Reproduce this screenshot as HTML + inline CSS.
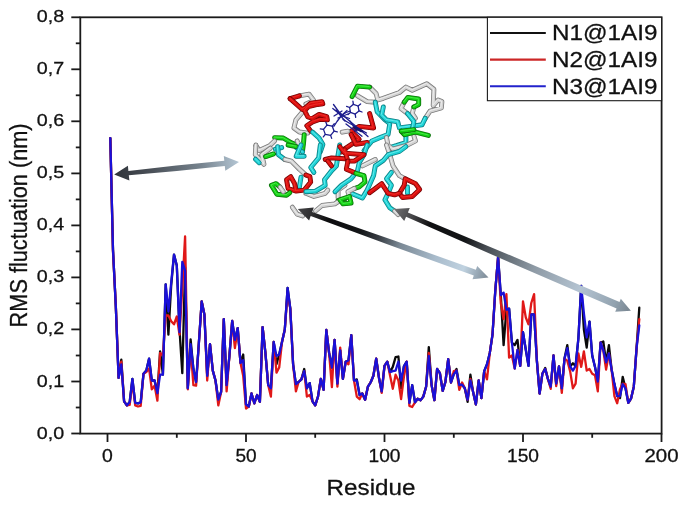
<!DOCTYPE html><html><head><meta charset="utf-8"><title>RMS fluctuation</title>
<style>html,body{margin:0;padding:0;background:#fff}svg{display:block}text{font-family:"Liberation Sans",sans-serif;fill:#111;stroke:#111;stroke-width:0.28px}</style></head><body>
<svg width="685" height="509" viewBox="0 0 685 509">
<rect width="685" height="509" fill="#fff"/>
<g stroke="#1a1a1a" stroke-width="1.8" fill="none">
<rect x="80.3" y="17.3" width="581.3" height="416.3"/>
<line x1="71.3" x2="80.3" y1="433.5" y2="433.5"/>
<line x1="75.8" x2="80.3" y1="407.5" y2="407.5"/>
<line x1="71.3" x2="80.3" y1="381.5" y2="381.5"/>
<line x1="75.8" x2="80.3" y1="355.5" y2="355.5"/>
<line x1="71.3" x2="80.3" y1="329.4" y2="329.4"/>
<line x1="75.8" x2="80.3" y1="303.4" y2="303.4"/>
<line x1="71.3" x2="80.3" y1="277.4" y2="277.4"/>
<line x1="75.8" x2="80.3" y1="251.4" y2="251.4"/>
<line x1="71.3" x2="80.3" y1="225.4" y2="225.4"/>
<line x1="75.8" x2="80.3" y1="199.4" y2="199.4"/>
<line x1="71.3" x2="80.3" y1="173.4" y2="173.4"/>
<line x1="75.8" x2="80.3" y1="147.4" y2="147.4"/>
<line x1="71.3" x2="80.3" y1="121.3" y2="121.3"/>
<line x1="75.8" x2="80.3" y1="95.3" y2="95.3"/>
<line x1="71.3" x2="80.3" y1="69.3" y2="69.3"/>
<line x1="75.8" x2="80.3" y1="43.3" y2="43.3"/>
<line x1="71.3" x2="80.3" y1="17.3" y2="17.3"/>
<line x1="107.5" x2="107.5" y1="433.5" y2="442"/>
<line x1="176.8" x2="176.8" y1="433.5" y2="437.8"/>
<line x1="246.0" x2="246.0" y1="433.5" y2="442"/>
<line x1="315.2" x2="315.2" y1="433.5" y2="437.8"/>
<line x1="384.5" x2="384.5" y1="433.5" y2="442"/>
<line x1="453.8" x2="453.8" y1="433.5" y2="437.8"/>
<line x1="523.0" x2="523.0" y1="433.5" y2="442"/>
<line x1="592.2" x2="592.2" y1="433.5" y2="437.8"/>
<line x1="661.5" x2="661.5" y1="433.5" y2="442"/>
</g>
<text x="64.2" y="438.5" font-size="17.3" text-anchor="end" textLength="27.4" lengthAdjust="spacingAndGlyphs">0,0</text>
<text x="64.2" y="386.5" font-size="17.3" text-anchor="end" textLength="27.4" lengthAdjust="spacingAndGlyphs">0,1</text>
<text x="64.2" y="334.4" font-size="17.3" text-anchor="end" textLength="27.4" lengthAdjust="spacingAndGlyphs">0,2</text>
<text x="64.2" y="282.4" font-size="17.3" text-anchor="end" textLength="27.4" lengthAdjust="spacingAndGlyphs">0,3</text>
<text x="64.2" y="230.4" font-size="17.3" text-anchor="end" textLength="27.4" lengthAdjust="spacingAndGlyphs">0,4</text>
<text x="64.2" y="178.4" font-size="17.3" text-anchor="end" textLength="27.4" lengthAdjust="spacingAndGlyphs">0,5</text>
<text x="64.2" y="126.3" font-size="17.3" text-anchor="end" textLength="27.4" lengthAdjust="spacingAndGlyphs">0,6</text>
<text x="64.2" y="74.3" font-size="17.3" text-anchor="end" textLength="27.4" lengthAdjust="spacingAndGlyphs">0,7</text>
<text x="64.2" y="22.3" font-size="17.3" text-anchor="end" textLength="27.4" lengthAdjust="spacingAndGlyphs">0,8</text>
<text x="102.1" y="461.7" font-size="17.8" textLength="10.8" lengthAdjust="spacingAndGlyphs">0</text>
<text x="235.4" y="461.7" font-size="17.8" textLength="21.2" lengthAdjust="spacingAndGlyphs">50</text>
<text x="368.5" y="461.7" font-size="17.8" textLength="32" lengthAdjust="spacingAndGlyphs">100</text>
<text x="507.0" y="461.7" font-size="17.8" textLength="32" lengthAdjust="spacingAndGlyphs">150</text>
<text x="644.5" y="461.7" font-size="17.8" textLength="34.1" lengthAdjust="spacingAndGlyphs">200</text>
<text x="326.6" y="495.0" font-size="22.2" textLength="88.8" lengthAdjust="spacingAndGlyphs">Residue</text>
<g transform="translate(27.4,327.4) rotate(-90) scale(1,1.15)"><text x="0" y="0" font-size="21.6" textLength="204" lengthAdjust="spacingAndGlyphs">RMS fluctuation (nm)</text></g>
<rect x="487.4" y="17.3" width="174.2" height="83.4" fill="#fff" stroke="#1a1a1a" stroke-width="1.1"/>
<line x1="490" x2="545.8" y1="33.0" y2="33.0" stroke="#111" stroke-width="2.1"/>
<text x="552.0" y="40.1" font-size="21.9" textLength="105.5" lengthAdjust="spacingAndGlyphs">N1@1AI9</text>
<line x1="490" x2="545.8" y1="59.6" y2="59.6" stroke="#cc2626" stroke-width="2.1"/>
<text x="552.0" y="66.8" font-size="21.9" textLength="105.5" lengthAdjust="spacingAndGlyphs">N2@1AI9</text>
<line x1="490" x2="545.8" y1="86.2" y2="86.2" stroke="#2222cc" stroke-width="2.1"/>
<text x="552.0" y="93.5" font-size="21.9" textLength="105.5" lengthAdjust="spacingAndGlyphs">N3@1AI9</text>
<polyline points="110.3,138.1 113.0,249.9 115.8,306.1 118.6,377.9 121.3,359.7 124.1,401.3 126.9,405.4 129.7,402.0 132.4,378.9 135.2,402.8 138.0,403.3 140.7,402.3 143.5,373.7 146.3,370.6 149.1,358.6 151.8,380.5 154.6,380.5 157.4,393.2 160.1,351.3 162.9,374.7 165.7,284.3 168.4,334.7 171.2,285.3 174.0,254.6 176.8,265.5 179.5,329.5 182.3,373.2 185.1,267.1 187.8,388.3 190.6,339.4 193.4,369.0 196.1,382.0 198.9,342.5 201.7,301.4 204.4,314.4 207.2,375.8 210.0,344.1 212.8,370.6 215.5,380.5 218.3,399.7 221.1,391.9 223.8,319.1 226.6,385.1 229.4,356.0 232.2,320.9 234.9,339.9 237.7,328.1 240.5,362.8 243.2,354.5 246.0,404.4 248.8,406.5 251.5,393.5 254.3,403.3 257.1,395.0 259.9,401.8 262.6,327.1 265.4,352.9 268.2,385.1 270.9,388.3 273.7,342.0 276.5,364.3 279.2,354.5 282.0,342.0 284.8,329.5 287.6,287.9 290.3,308.7 293.1,364.3 295.9,384.1 298.6,382.0 301.4,379.4 304.2,369.0 306.9,388.3 309.7,383.1 312.5,401.3 315.2,405.4 318.0,396.6 320.8,378.9 323.6,389.8 326.3,330.0 329.1,352.9 331.9,367.5 334.6,339.9 337.4,383.6 340.2,350.3 342.9,378.9 345.7,361.7 348.5,360.2 351.3,335.2 354.0,380.5 356.8,379.4 359.6,395.0 362.3,393.5 365.1,399.7 367.9,386.7 370.6,382.5 373.4,375.8 376.2,358.6 379.0,377.9 381.7,391.4 384.5,365.9 387.3,361.7 390.0,372.1 392.8,366.9 395.6,357.1 398.4,356.5 401.1,388.3 403.9,366.4 406.7,361.7 409.4,402.8 412.2,385.1 415.0,402.3 417.7,398.7 420.5,400.2 423.3,396.6 426.1,386.7 428.8,347.2 431.6,385.1 434.4,400.2 437.1,369.0 439.9,373.2 442.7,390.9 445.4,382.0 448.2,359.1 451.0,382.5 453.8,374.2 456.5,369.0 459.3,385.1 462.1,384.6 464.8,388.3 467.6,401.8 470.4,374.7 473.1,391.9 475.9,404.4 478.7,380.5 481.4,398.1 484.2,371.1 487.0,364.3 489.8,352.9 492.5,334.7 495.3,290.5 498.1,257.2 500.8,295.2 503.6,345.1 506.4,309.7 509.1,308.7 511.9,342.5 514.7,345.1 517.5,339.9 520.2,365.9 523.0,332.1 525.8,349.8 528.5,365.9 531.3,314.4 534.1,314.4 536.9,361.2 539.6,393.5 542.4,373.7 545.2,368.0 547.9,378.9 550.7,386.7 553.5,355.5 556.2,383.6 559.0,366.4 561.8,388.3 564.5,358.6 567.3,345.1 570.1,366.4 572.9,363.3 575.6,365.9 578.4,338.3 581.2,285.8 583.9,329.5 586.7,347.7 589.5,321.7 592.2,355.5 595.0,366.9 597.8,381.5 600.6,342.5 603.3,341.5 606.1,362.3 608.9,345.1 611.6,369.5 614.4,384.1 617.2,396.1 620.0,398.1 622.7,376.8 625.5,388.3 628.3,402.8 631.0,398.7 633.8,386.7 636.6,347.7 639.3,307.7" fill="none" stroke="#0a0a0a" stroke-width="2.3" stroke-linejoin="round" stroke-linecap="round"/>
<polyline points="110.3,138.1 113.0,251.5 115.8,305.1 118.6,377.9 121.3,361.7 124.1,401.3 126.9,405.4 129.7,404.9 132.4,381.5 135.2,405.4 138.0,406.5 140.7,405.9 143.5,373.7 146.3,372.1 149.1,368.5 151.8,389.3 154.6,385.7 157.4,400.7 160.1,352.9 162.9,355.5 165.7,315.5 168.4,315.5 171.2,321.2 174.0,324.3 176.8,316.5 179.5,334.7 182.3,287.9 185.1,236.4 187.8,389.3 190.6,347.7 193.4,385.1 196.1,385.7 198.9,342.5 201.7,301.4 204.4,314.4 207.2,380.5 210.0,344.1 212.8,370.6 215.5,380.5 218.3,405.4 221.1,391.9 223.8,319.1 226.6,391.4 229.4,356.0 232.2,320.9 234.9,348.2 237.7,328.1 240.5,362.8 243.2,375.8 246.0,408.5 248.8,406.5 251.5,393.5 254.3,403.3 257.1,395.0 259.9,401.8 262.6,327.1 265.4,352.9 268.2,385.1 270.9,396.6 273.7,342.0 276.5,372.7 279.2,367.5 282.0,342.0 284.8,329.5 287.6,293.1 290.3,308.7 293.1,364.3 295.9,391.4 298.6,382.0 301.4,379.4 304.2,371.1 306.9,396.6 309.7,395.0 312.5,401.3 315.2,405.4 318.0,396.6 320.8,378.9 323.6,389.8 326.3,330.0 329.1,352.9 331.9,387.2 334.6,339.9 337.4,386.7 340.2,347.7 342.9,378.9 345.7,361.7 348.5,364.3 351.3,335.2 354.0,380.5 356.8,396.6 359.6,399.2 362.3,393.5 365.1,399.7 367.9,386.7 370.6,382.5 373.4,375.8 376.2,358.6 379.0,377.9 381.7,392.9 384.5,365.9 387.3,361.7 390.0,375.3 392.8,388.8 395.6,374.7 398.4,380.5 401.1,399.2 403.9,376.8 406.7,361.7 409.4,405.9 412.2,407.0 415.0,402.3 417.7,398.7 420.5,400.2 423.3,396.6 426.1,386.7 428.8,352.9 431.6,385.1 434.4,400.2 437.1,369.0 439.9,373.2 442.7,390.9 445.4,382.0 448.2,359.1 451.0,382.5 453.8,371.1 456.5,370.6 459.3,389.8 462.1,382.5 464.8,388.3 467.6,399.7 470.4,378.9 473.1,391.9 475.9,404.4 478.7,380.5 481.4,398.1 484.2,371.1 487.0,379.4 489.8,352.9 492.5,334.7 495.3,290.5 498.1,257.2 500.8,303.0 503.6,319.1 506.4,294.1 509.1,357.6 511.9,355.5 514.7,368.5 517.5,349.8 520.2,365.9 523.0,301.4 525.8,317.5 528.5,324.3 531.3,303.0 534.1,294.1 536.9,360.7 539.6,393.5 542.4,373.7 545.2,369.0 547.9,378.9 550.7,388.8 553.5,355.5 556.2,386.2 559.0,366.4 561.8,392.9 564.5,358.6 567.3,360.7 570.1,371.1 572.9,388.3 575.6,383.6 578.4,353.4 581.2,366.9 583.9,351.3 586.7,370.6 589.5,369.0 592.2,373.7 595.0,375.3 597.8,391.4 600.6,342.5 603.3,350.3 606.1,369.5 608.9,353.4 611.6,369.5 614.4,396.1 617.2,403.3 620.0,389.3 622.7,383.6 625.5,384.1 628.3,402.8 631.0,398.7 633.8,386.7 636.6,347.7 639.3,319.1" fill="none" stroke="#e01818" stroke-width="2.3" stroke-linejoin="round" stroke-linecap="round"/>
<polyline points="110.3,138.1 113.0,249.9 115.8,306.1 118.6,377.9 121.3,364.3 124.1,401.3 126.9,405.4 129.7,402.0 132.4,378.9 135.2,402.8 138.0,403.3 140.7,402.3 143.5,373.7 146.3,370.6 149.1,358.6 151.8,380.5 154.6,380.5 157.4,393.2 160.1,374.7 162.9,374.7 165.7,284.3 168.4,311.3 171.2,282.7 174.0,254.6 176.8,265.5 179.5,332.1 182.3,261.9 185.1,270.7 187.8,388.3 190.6,344.1 193.4,369.0 196.1,382.0 198.9,342.5 201.7,301.4 204.4,314.4 207.2,375.8 210.0,344.1 212.8,370.6 215.5,380.5 218.3,399.7 221.1,391.9 223.8,319.1 226.6,385.1 229.4,356.0 232.2,320.9 234.9,339.9 237.7,328.1 240.5,362.8 243.2,360.2 246.0,404.4 248.8,406.5 251.5,393.5 254.3,403.3 257.1,395.0 259.9,401.8 262.6,327.1 265.4,352.9 268.2,385.1 270.9,388.3 273.7,342.0 276.5,356.0 279.2,354.5 282.0,342.0 284.8,329.5 287.6,287.9 290.3,308.7 293.1,364.3 295.9,384.1 298.6,382.0 301.4,379.4 304.2,371.1 306.9,388.3 309.7,383.1 312.5,401.3 315.2,405.4 318.0,396.6 320.8,378.9 323.6,389.8 326.3,330.0 329.1,352.9 331.9,367.5 334.6,339.9 337.4,383.6 340.2,350.3 342.9,378.9 345.7,361.7 348.5,360.2 351.3,335.2 354.0,380.5 356.8,380.5 359.6,395.0 362.3,393.5 365.1,399.7 367.9,386.7 370.6,382.5 373.4,375.8 376.2,358.6 379.0,377.9 381.7,391.4 384.5,365.9 387.3,361.7 390.0,372.1 392.8,371.1 395.6,370.6 398.4,361.7 401.1,380.5 403.9,366.4 406.7,361.7 409.4,402.8 412.2,385.1 415.0,402.3 417.7,398.7 420.5,400.2 423.3,396.6 426.1,386.7 428.8,356.0 431.6,385.1 434.4,400.2 437.1,369.0 439.9,373.2 442.7,390.9 445.4,382.0 448.2,359.1 451.0,382.5 453.8,374.2 456.5,370.6 459.3,385.1 462.1,384.6 464.8,388.3 467.6,399.7 470.4,380.5 473.1,391.9 475.9,404.4 478.7,380.5 481.4,398.1 484.2,371.1 487.0,364.3 489.8,352.9 492.5,334.7 495.3,290.5 498.1,257.2 500.8,295.2 503.6,292.6 506.4,309.7 509.1,308.7 511.9,342.5 514.7,368.5 517.5,349.8 520.2,365.9 523.0,332.1 525.8,349.8 528.5,365.9 531.3,314.4 534.1,314.4 536.9,361.2 539.6,393.5 542.4,373.7 545.2,369.0 547.9,378.9 550.7,386.7 553.5,355.5 556.2,383.6 559.0,366.4 561.8,388.3 564.5,358.6 567.3,348.2 570.1,366.4 572.9,370.6 575.6,365.9 578.4,338.3 581.2,285.8 583.9,313.4 586.7,337.3 589.5,321.7 592.2,355.5 595.0,366.9 597.8,381.5 600.6,342.5 603.3,350.3 606.1,362.3 608.9,353.4 611.6,369.5 614.4,384.1 617.2,396.1 620.0,396.1 622.7,384.1 625.5,388.3 628.3,402.8 631.0,398.7 633.8,386.7 636.6,347.7 639.3,325.3" fill="none" stroke="#1a10d8" stroke-width="2.3" stroke-linejoin="round" stroke-linecap="round"/>
<filter id="sf" x="-5%" y="-5%" width="110%" height="110%"><feGaussianBlur stdDeviation="0.35"/></filter>
<g fill="none" stroke-linecap="round" stroke-linejoin="round" filter="url(#sf)">
<polyline points="299.4,95.8 309.1,94.2 313.9,100.6 305.9,104.1" stroke="#7a7a7a" stroke-width="4.9"/>
<polyline points="299.4,95.8 309.1,94.2 313.9,100.6 305.9,104.1" stroke="#d2d2d2" stroke-width="3.3"/>
<polyline points="299.4,95.8 309.1,94.2 313.9,100.6 305.9,104.1" stroke="#f0f0f0" stroke-width="0.9" transform="translate(-0.4,-0.5)"/>
<polyline points="302.6,111.9 295.9,119.9 293.9,128.0 299.4,132.0 307.8,133.1" stroke="#7a7a7a" stroke-width="4.9"/>
<polyline points="302.6,111.9 295.9,119.9 293.9,128.0 299.4,132.0 307.8,133.1" stroke="#d2d2d2" stroke-width="3.3"/>
<polyline points="302.6,111.9 295.9,119.9 293.9,128.0 299.4,132.0 307.8,133.1" stroke="#f0f0f0" stroke-width="0.9" transform="translate(-0.4,-0.5)"/>
<polyline points="290.1,98.7 299.4,95.8" stroke="#780505" stroke-width="4.9"/>
<polyline points="290.1,98.7 299.4,95.8" stroke="#dc1010" stroke-width="3.3"/>
<polyline points="290.1,98.7 299.4,95.8" stroke="#ee3028" stroke-width="0.9" transform="translate(-0.4,-0.5)"/>
<polyline points="290.1,98.7 302.3,109.5 305.9,107.4 310.7,103.2 322.0,101.6 322.8,103.8 315.5,104.8 308.3,106.7 304.6,110.6 307.8,117.0 312.6,118.3 319.1,114.4 326.8,116.7 327.4,119.9 320.3,119.3 312.6,121.9 306.8,125.7 310.7,131.2" stroke="#780505" stroke-width="4.9"/>
<polyline points="290.1,98.7 302.3,109.5 305.9,107.4 310.7,103.2 322.0,101.6 322.8,103.8 315.5,104.8 308.3,106.7 304.6,110.6 307.8,117.0 312.6,118.3 319.1,114.4 326.8,116.7 327.4,119.9 320.3,119.3 312.6,121.9 306.8,125.7 310.7,131.2" stroke="#dc1010" stroke-width="3.3"/>
<polyline points="290.1,98.7 302.3,109.5 305.9,107.4 310.7,103.2 322.0,101.6 322.8,103.8 315.5,104.8 308.3,106.7 304.6,110.6 307.8,117.0 312.6,118.3 319.1,114.4 326.8,116.7 327.4,119.9 320.3,119.3 312.6,121.9 306.8,125.7 310.7,131.2" stroke="#ee3028" stroke-width="0.9" transform="translate(-0.4,-0.5)"/>
<polyline points="274.6,137.6 283.3,138.0 291.4,142.8 297.2,145.0" stroke="#087008" stroke-width="4.9"/>
<polyline points="274.6,137.6 283.3,138.0 291.4,142.8 297.2,145.0" stroke="#12d012" stroke-width="3.3"/>
<polyline points="274.6,137.6 283.3,138.0 291.4,142.8 297.2,145.0" stroke="#50ea50" stroke-width="0.9" transform="translate(-0.4,-0.5)"/>
<polyline points="304.2,134.7 303.6,142.5 302.6,150.5" stroke="#087008" stroke-width="4.9"/>
<polyline points="304.2,134.7 303.6,142.5 302.6,150.5" stroke="#12d012" stroke-width="3.3"/>
<polyline points="304.2,134.7 303.6,142.5 302.6,150.5" stroke="#50ea50" stroke-width="0.9" transform="translate(-0.4,-0.5)"/>
<polyline points="255.9,145.7 259.2,150.5 269.6,145.7 274.6,140.9" stroke="#7a7a7a" stroke-width="4.9"/>
<polyline points="255.9,145.7 259.2,150.5 269.6,145.7 274.6,140.9" stroke="#d2d2d2" stroke-width="3.3"/>
<polyline points="255.9,145.7 259.2,150.5 269.6,145.7 274.6,140.9" stroke="#f0f0f0" stroke-width="0.9" transform="translate(-0.4,-0.5)"/>
<polyline points="297.2,140.9 299.4,145.7" stroke="#7a7a7a" stroke-width="4.9"/>
<polyline points="297.2,140.9 299.4,145.7" stroke="#d2d2d2" stroke-width="3.3"/>
<polyline points="297.2,140.9 299.4,145.7" stroke="#f0f0f0" stroke-width="0.9" transform="translate(-0.4,-0.5)"/>
<polyline points="312.6,132.2 319.1,138.0 322.9,144.4 320.3,152.0" stroke="#0c7f84" stroke-width="4.9"/>
<polyline points="312.6,132.2 319.1,138.0 322.9,144.4 320.3,152.0" stroke="#1fd2d6" stroke-width="3.3"/>
<polyline points="312.6,132.2 319.1,138.0 322.9,144.4 320.3,152.0" stroke="#6cecec" stroke-width="0.9" transform="translate(-0.4,-0.5)"/>
<polyline points="275.3,149.2 281.7,147.6" stroke="#0c7f84" stroke-width="4.9"/>
<polyline points="275.3,149.2 281.7,147.6" stroke="#1fd2d6" stroke-width="3.3"/>
<polyline points="275.3,149.2 281.7,147.6" stroke="#6cecec" stroke-width="0.9" transform="translate(-0.4,-0.5)"/>
<polyline points="296.2,147.6 302.6,152.0" stroke="#0c7f84" stroke-width="4.9"/>
<polyline points="296.2,147.6 302.6,152.0" stroke="#1fd2d6" stroke-width="3.3"/>
<polyline points="296.2,147.6 302.6,152.0" stroke="#6cecec" stroke-width="0.9" transform="translate(-0.4,-0.5)"/>
<polyline points="369.6,87.1 376.1,93.5 377.8,100.0 383.3,98.3 399.4,92.5 405.9,87.1 412.3,90.3 426.8,83.8 433.9,89.3 433.2,105.7 438.1,100.0 441.9,101.6 441.3,108.0 430.0,111.2 425.2,118.3" stroke="#7a7a7a" stroke-width="4.9"/>
<polyline points="369.6,87.1 376.1,93.5 377.8,100.0 383.3,98.3 399.4,92.5 405.9,87.1 412.3,90.3 426.8,83.8 433.9,89.3 433.2,105.7 438.1,100.0 441.9,101.6 441.3,108.0 430.0,111.2 425.2,118.3" stroke="#d2d2d2" stroke-width="3.3"/>
<polyline points="369.6,87.1 376.1,93.5 377.8,100.0 383.3,98.3 399.4,92.5 405.9,87.1 412.3,90.3 426.8,83.8 433.9,89.3 433.2,105.7 438.1,100.0 441.9,101.6 441.3,108.0 430.0,111.2 425.2,118.3" stroke="#f0f0f0" stroke-width="0.9" transform="translate(-0.4,-0.5)"/>
<polyline points="357.5,95.8 367.2,101.6 375.3,102.2" stroke="#7a7a7a" stroke-width="4.9"/>
<polyline points="357.5,95.8 367.2,101.6 375.3,102.2" stroke="#d2d2d2" stroke-width="3.3"/>
<polyline points="357.5,95.8 367.2,101.6 375.3,102.2" stroke="#f0f0f0" stroke-width="0.9" transform="translate(-0.4,-0.5)"/>
<polyline points="352.1,96.6 357.5,86.1 369.6,87.1" stroke="#087008" stroke-width="4.9"/>
<polyline points="352.1,96.6 357.5,86.1 369.6,87.1" stroke="#12d012" stroke-width="3.3"/>
<polyline points="352.1,96.6 357.5,86.1 369.6,87.1" stroke="#50ea50" stroke-width="0.9" transform="translate(-0.4,-0.5)"/>
<polyline points="404.2,102.2 401.0,108.6 407.5,113.5" stroke="#7a7a7a" stroke-width="4.9"/>
<polyline points="404.2,102.2 401.0,108.6 407.5,113.5" stroke="#d2d2d2" stroke-width="3.3"/>
<polyline points="404.2,102.2 401.0,108.6 407.5,113.5" stroke="#f0f0f0" stroke-width="0.9" transform="translate(-0.4,-0.5)"/>
<polyline points="413.9,107.0 412.3,113.5 415.5,118.3" stroke="#7a7a7a" stroke-width="4.9"/>
<polyline points="413.9,107.0 412.3,113.5 415.5,118.3" stroke="#d2d2d2" stroke-width="3.3"/>
<polyline points="413.9,107.0 412.3,113.5 415.5,118.3" stroke="#f0f0f0" stroke-width="0.9" transform="translate(-0.4,-0.5)"/>
<polyline points="404.2,102.2 407.8,97.4 418.7,99.0 418.7,104.6 413.9,107.0" stroke="#087008" stroke-width="4.9"/>
<polyline points="404.2,102.2 407.8,97.4 418.7,99.0 418.7,104.6 413.9,107.0" stroke="#12d012" stroke-width="3.3"/>
<polyline points="404.2,102.2 407.8,97.4 418.7,99.0 418.7,104.6 413.9,107.0" stroke="#50ea50" stroke-width="0.9" transform="translate(-0.4,-0.5)"/>
<polyline points="375.3,102.2 377.2,111.9 384.9,119.9 389.8,123.5 388.1,134.4 380.1,137.6 372.0,140.9 364.0,150.5" stroke="#0c7f84" stroke-width="4.9"/>
<polyline points="375.3,102.2 377.2,111.9 384.9,119.9 389.8,123.5 388.1,134.4 380.1,137.6 372.0,140.9 364.0,150.5" stroke="#1fd2d6" stroke-width="3.3"/>
<polyline points="375.3,102.2 377.2,111.9 384.9,119.9 389.8,123.5 388.1,134.4 380.1,137.6 372.0,140.9 364.0,150.5" stroke="#6cecec" stroke-width="0.9" transform="translate(-0.4,-0.5)"/>
<polyline points="383.3,107.0 381.7,115.1 386.5,119.9 397.8,121.9 399.4,128.0 410.7,126.4 422.0,124.8 425.2,118.3" stroke="#0c7f84" stroke-width="4.9"/>
<polyline points="383.3,107.0 381.7,115.1 386.5,119.9 397.8,121.9 399.4,128.0 410.7,126.4 422.0,124.8 425.2,118.3" stroke="#1fd2d6" stroke-width="3.3"/>
<polyline points="383.3,107.0 381.7,115.1 386.5,119.9 397.8,121.9 399.4,128.0 410.7,126.4 422.0,124.8 425.2,118.3" stroke="#6cecec" stroke-width="0.9" transform="translate(-0.4,-0.5)"/>
<polyline points="407.5,113.5 413.9,121.5 412.3,129.6 405.9,134.4 405.9,142.5 396.2,145.7 389.8,147.6" stroke="#0c7f84" stroke-width="4.9"/>
<polyline points="407.5,113.5 413.9,121.5 412.3,129.6 405.9,134.4 405.9,142.5 396.2,145.7 389.8,147.6" stroke="#1fd2d6" stroke-width="3.3"/>
<polyline points="407.5,113.5 413.9,121.5 412.3,129.6 405.9,134.4 405.9,142.5 396.2,145.7 389.8,147.6" stroke="#6cecec" stroke-width="0.9" transform="translate(-0.4,-0.5)"/>
<polyline points="386.5,137.6 388.1,145.7 393.0,149.2 405.9,145.7 415.5,140.9 413.9,136.0" stroke="#7a7a7a" stroke-width="4.9"/>
<polyline points="386.5,137.6 388.1,145.7 393.0,149.2 405.9,145.7 415.5,140.9 413.9,136.0" stroke="#d2d2d2" stroke-width="3.3"/>
<polyline points="386.5,137.6 388.1,145.7 393.0,149.2 405.9,145.7 415.5,140.9 413.9,136.0" stroke="#f0f0f0" stroke-width="0.9" transform="translate(-0.4,-0.5)"/>
<polyline points="401.3,131.2 404.6,134.7 415.5,132.2 428.4,135.4" stroke="#087008" stroke-width="4.9"/>
<polyline points="401.3,131.2 404.6,134.7 415.5,132.2 428.4,135.4" stroke="#12d012" stroke-width="3.3"/>
<polyline points="401.3,131.2 404.6,134.7 415.5,132.2 428.4,135.4" stroke="#50ea50" stroke-width="0.9" transform="translate(-0.4,-0.5)"/>
<polyline points="401.3,131.2 413.9,129.6" stroke="#087008" stroke-width="4.9"/>
<polyline points="401.3,131.2 413.9,129.6" stroke="#12d012" stroke-width="3.3"/>
<polyline points="401.3,131.2 413.9,129.6" stroke="#50ea50" stroke-width="0.9" transform="translate(-0.4,-0.5)"/>
<polyline points="369.6,113.5 373.6,128.0 359.2,126.4 351.1,131.2 359.2,139.2 344.7,148.9 341.4,152.0" stroke="#780505" stroke-width="4.9"/>
<polyline points="369.6,113.5 373.6,128.0 359.2,126.4 351.1,131.2 359.2,139.2 344.7,148.9 341.4,152.0" stroke="#dc1010" stroke-width="3.3"/>
<polyline points="369.6,113.5 373.6,128.0 359.2,126.4 351.1,131.2 359.2,139.2 344.7,148.9 341.4,152.0" stroke="#ee3028" stroke-width="0.9" transform="translate(-0.4,-0.5)"/>
<polyline points="351.1,134.4 355.9,144.4 367.2,142.5" stroke="#780505" stroke-width="4.9"/>
<polyline points="351.1,134.4 355.9,144.4 367.2,142.5" stroke="#dc1010" stroke-width="3.3"/>
<polyline points="351.1,134.4 355.9,144.4 367.2,142.5" stroke="#ee3028" stroke-width="0.9" transform="translate(-0.4,-0.5)"/>
<polyline points="342.2,132.2 347.9,131.2" stroke="#7a7a7a" stroke-width="4.9"/>
<polyline points="342.2,132.2 347.9,131.2" stroke="#d2d2d2" stroke-width="3.3"/>
<polyline points="342.2,132.2 347.9,131.2" stroke="#f0f0f0" stroke-width="0.9" transform="translate(-0.4,-0.5)"/>
<polyline points="255.9,145.0 255.3,154.7 264.0,164.3 261.7,154.7 270.4,148.2" stroke="#7a7a7a" stroke-width="4.9"/>
<polyline points="255.9,145.0 255.3,154.7 264.0,164.3 261.7,154.7 270.4,148.2" stroke="#d2d2d2" stroke-width="3.3"/>
<polyline points="255.9,145.0 255.3,154.7 264.0,164.3 261.7,154.7 270.4,148.2" stroke="#f0f0f0" stroke-width="0.9" transform="translate(-0.4,-0.5)"/>
<polyline points="255.6,159.2 259.2,162.7" stroke="#0c7f84" stroke-width="4.9"/>
<polyline points="255.6,159.2 259.2,162.7" stroke="#1fd2d6" stroke-width="3.3"/>
<polyline points="255.6,159.2 259.2,162.7" stroke="#6cecec" stroke-width="0.9" transform="translate(-0.4,-0.5)"/>
<polyline points="265.6,156.6 273.6,153.9" stroke="#087008" stroke-width="4.9"/>
<polyline points="265.6,156.6 273.6,153.9" stroke="#12d012" stroke-width="3.3"/>
<polyline points="265.6,156.6 273.6,153.9" stroke="#50ea50" stroke-width="0.9" transform="translate(-0.4,-0.5)"/>
<polyline points="277.7,146.6 278.5,154.7 284.9,159.5" stroke="#0c7f84" stroke-width="4.9"/>
<polyline points="277.7,146.6 278.5,154.7 284.9,159.5" stroke="#1fd2d6" stroke-width="3.3"/>
<polyline points="277.7,146.6 278.5,154.7 284.9,159.5" stroke="#6cecec" stroke-width="0.9" transform="translate(-0.4,-0.5)"/>
<polyline points="288.1,145.0 296.2,146.6" stroke="#087008" stroke-width="4.9"/>
<polyline points="288.1,145.0 296.2,146.6" stroke="#12d012" stroke-width="3.3"/>
<polyline points="288.1,145.0 296.2,146.6" stroke="#50ea50" stroke-width="0.9" transform="translate(-0.4,-0.5)"/>
<polyline points="301.0,145.0 296.2,156.3 304.2,156.3" stroke="#0c7f84" stroke-width="4.9"/>
<polyline points="301.0,145.0 296.2,156.3 304.2,156.3" stroke="#1fd2d6" stroke-width="3.3"/>
<polyline points="301.0,145.0 296.2,156.3 304.2,156.3" stroke="#6cecec" stroke-width="0.9" transform="translate(-0.4,-0.5)"/>
<polyline points="284.9,159.5 291.4,161.1 299.4,169.2 305.9,175.0" stroke="#7a7a7a" stroke-width="4.9"/>
<polyline points="284.9,159.5 291.4,161.1 299.4,169.2 305.9,175.0" stroke="#d2d2d2" stroke-width="3.3"/>
<polyline points="284.9,159.5 291.4,161.1 299.4,169.2 305.9,175.0" stroke="#f0f0f0" stroke-width="0.9" transform="translate(-0.4,-0.5)"/>
<polyline points="320.3,145.0 318.7,157.9 310.7,167.5 313.9,172.4" stroke="#0c7f84" stroke-width="4.9"/>
<polyline points="320.3,145.0 318.7,157.9 310.7,167.5 313.9,172.4" stroke="#1fd2d6" stroke-width="3.3"/>
<polyline points="320.3,145.0 318.7,157.9 310.7,167.5 313.9,172.4" stroke="#6cecec" stroke-width="0.9" transform="translate(-0.4,-0.5)"/>
<polyline points="301.0,177.2 299.4,187.2" stroke="#0c7f84" stroke-width="4.9"/>
<polyline points="301.0,177.2 299.4,187.2" stroke="#1fd2d6" stroke-width="3.3"/>
<polyline points="301.0,177.2 299.4,187.2" stroke="#6cecec" stroke-width="0.9" transform="translate(-0.4,-0.5)"/>
<polyline points="305.9,175.0 309.9,176.6 310.7,182.0 304.2,190.1 296.2,191.1 294.6,183.6 290.7,176.6 286.5,179.8 288.1,188.5 296.2,191.1" stroke="#780505" stroke-width="4.9"/>
<polyline points="305.9,175.0 309.9,176.6 310.7,182.0 304.2,190.1 296.2,191.1 294.6,183.6 290.7,176.6 286.5,179.8 288.1,188.5 296.2,191.1" stroke="#dc1010" stroke-width="3.3"/>
<polyline points="305.9,175.0 309.9,176.6 310.7,182.0 304.2,190.1 296.2,191.1 294.6,183.6 290.7,176.6 286.5,179.8 288.1,188.5 296.2,191.1" stroke="#ee3028" stroke-width="0.9" transform="translate(-0.4,-0.5)"/>
<polyline points="280.1,187.2 276.1,183.6 271.4,185.3 276.9,194.3 286.5,195.2 289.8,192.7" stroke="#087008" stroke-width="4.9"/>
<polyline points="280.1,187.2 276.1,183.6 271.4,185.3 276.9,194.3 286.5,195.2 289.8,192.7" stroke="#12d012" stroke-width="3.3"/>
<polyline points="280.1,187.2 276.1,183.6 271.4,185.3 276.9,194.3 286.5,195.2 289.8,192.7" stroke="#50ea50" stroke-width="0.9" transform="translate(-0.4,-0.5)"/>
<polyline points="280.1,187.2 283.3,191.7" stroke="#7a7a7a" stroke-width="4.9"/>
<polyline points="280.1,187.2 283.3,191.7" stroke="#d2d2d2" stroke-width="3.3"/>
<polyline points="280.1,187.2 283.3,191.7" stroke="#f0f0f0" stroke-width="0.9" transform="translate(-0.4,-0.5)"/>
<polyline points="305.9,193.3 313.9,196.5 325.2,193.3 327.8,190.1" stroke="#7a7a7a" stroke-width="4.9"/>
<polyline points="305.9,193.3 313.9,196.5 325.2,193.3 327.8,190.1" stroke="#d2d2d2" stroke-width="3.3"/>
<polyline points="305.9,193.3 313.9,196.5 325.2,193.3 327.8,190.1" stroke="#f0f0f0" stroke-width="0.9" transform="translate(-0.4,-0.5)"/>
<polyline points="305.9,191.7 315.5,191.1 325.2,185.3 324.5,179.8 331.6,170.8 336.4,165.9 338.1,154.7 339.7,145.0" stroke="#0c7f84" stroke-width="4.9"/>
<polyline points="305.9,191.7 315.5,191.1 325.2,185.3 324.5,179.8 331.6,170.8 336.4,165.9 338.1,154.7 339.7,145.0" stroke="#1fd2d6" stroke-width="3.3"/>
<polyline points="305.9,191.7 315.5,191.1 325.2,185.3 324.5,179.8 331.6,170.8 336.4,165.9 338.1,154.7 339.7,145.0" stroke="#6cecec" stroke-width="0.9" transform="translate(-0.4,-0.5)"/>
<polyline points="325.2,159.5 331.6,157.9 345.0,158.8" stroke="#780505" stroke-width="4.9"/>
<polyline points="325.2,159.5 331.6,157.9 345.0,158.8" stroke="#dc1010" stroke-width="3.3"/>
<polyline points="325.2,159.5 331.6,157.9 345.0,158.8" stroke="#ee3028" stroke-width="0.9" transform="translate(-0.4,-0.5)"/>
<polyline points="327.8,161.1 331.6,165.9" stroke="#780505" stroke-width="4.9"/>
<polyline points="327.8,161.1 331.6,165.9" stroke="#dc1010" stroke-width="3.3"/>
<polyline points="327.8,161.1 331.6,165.9" stroke="#ee3028" stroke-width="0.9" transform="translate(-0.4,-0.5)"/>
<polyline points="345.0,185.3 338.1,190.1 338.1,198.1" stroke="#7a7a7a" stroke-width="4.9"/>
<polyline points="345.0,185.3 338.1,190.1 338.1,198.1" stroke="#d2d2d2" stroke-width="3.3"/>
<polyline points="345.0,185.3 338.1,190.1 338.1,198.1" stroke="#f0f0f0" stroke-width="0.9" transform="translate(-0.4,-0.5)"/>
<polyline points="338.1,200.6 345.0,198.9" stroke="#087008" stroke-width="4.9"/>
<polyline points="338.1,200.6 345.0,198.9" stroke="#12d012" stroke-width="3.3"/>
<polyline points="338.1,200.6 345.0,198.9" stroke="#50ea50" stroke-width="0.9" transform="translate(-0.4,-0.5)"/>
<polyline points="315.5,211.0 322.0,205.5 334.8,203.9 339.7,200.7" stroke="#7a7a7a" stroke-width="4.9"/>
<polyline points="315.5,211.0 322.0,205.5 334.8,203.9 339.7,200.7" stroke="#d2d2d2" stroke-width="3.3"/>
<polyline points="315.5,211.0 322.0,205.5 334.8,203.9 339.7,200.7" stroke="#f0f0f0" stroke-width="0.9" transform="translate(-0.4,-0.5)"/>
<polyline points="292.3,207.2 297.2,214.2 302.6,215.9" stroke="#7a7a7a" stroke-width="4.9"/>
<polyline points="292.3,207.2 297.2,214.2 302.6,215.9" stroke="#d2d2d2" stroke-width="3.3"/>
<polyline points="292.3,207.2 297.2,214.2 302.6,215.9" stroke="#f0f0f0" stroke-width="0.9" transform="translate(-0.4,-0.5)"/>
<polyline points="386.5,145.0 389.8,154.7 393.0,165.9 399.4,175.6 405.2,178.8" stroke="#7a7a7a" stroke-width="4.9"/>
<polyline points="386.5,145.0 389.8,154.7 393.0,165.9 399.4,175.6 405.2,178.8" stroke="#d2d2d2" stroke-width="3.3"/>
<polyline points="386.5,145.0 389.8,154.7 393.0,165.9 399.4,175.6 405.2,178.8" stroke="#f0f0f0" stroke-width="0.9" transform="translate(-0.4,-0.5)"/>
<polyline points="362.4,165.9 375.3,159.5" stroke="#7a7a7a" stroke-width="4.9"/>
<polyline points="362.4,165.9 375.3,159.5" stroke="#d2d2d2" stroke-width="3.3"/>
<polyline points="362.4,165.9 375.3,159.5" stroke="#f0f0f0" stroke-width="0.9" transform="translate(-0.4,-0.5)"/>
<polyline points="367.2,145.0 364.0,154.7 359.2,162.7 357.5,170.8 351.1,178.8 341.4,185.3 335.0,191.7" stroke="#0c7f84" stroke-width="4.9"/>
<polyline points="367.2,145.0 364.0,154.7 359.2,162.7 357.5,170.8 351.1,178.8 341.4,185.3 335.0,191.7" stroke="#1fd2d6" stroke-width="3.3"/>
<polyline points="367.2,145.0 364.0,154.7 359.2,162.7 357.5,170.8 351.1,178.8 341.4,185.3 335.0,191.7" stroke="#6cecec" stroke-width="0.9" transform="translate(-0.4,-0.5)"/>
<polyline points="351.1,193.3 362.4,198.1 367.2,190.1 373.6,175.6 375.3,165.9 383.3,160.5 388.1,154.7 399.4,151.4 405.9,146.6" stroke="#0c7f84" stroke-width="4.9"/>
<polyline points="351.1,193.3 362.4,198.1 367.2,190.1 373.6,175.6 375.3,165.9 383.3,160.5 388.1,154.7 399.4,151.4 405.9,146.6" stroke="#1fd2d6" stroke-width="3.3"/>
<polyline points="351.1,193.3 362.4,198.1 367.2,190.1 373.6,175.6 375.3,165.9 383.3,160.5 388.1,154.7 399.4,151.4 405.9,146.6" stroke="#6cecec" stroke-width="0.9" transform="translate(-0.4,-0.5)"/>
<polyline points="391.4,172.4 386.5,178.8 391.4,185.3 388.1,193.3 384.9,199.8 389.8,207.8 394.6,211.0" stroke="#0c7f84" stroke-width="4.9"/>
<polyline points="391.4,172.4 386.5,178.8 391.4,185.3 388.1,193.3 384.9,199.8 389.8,207.8 394.6,211.0" stroke="#1fd2d6" stroke-width="3.3"/>
<polyline points="391.4,172.4 386.5,178.8 391.4,185.3 388.1,193.3 384.9,199.8 389.8,207.8 394.6,211.0" stroke="#6cecec" stroke-width="0.9" transform="translate(-0.4,-0.5)"/>
<polyline points="407.5,186.9 407.5,193.3" stroke="#0c7f84" stroke-width="4.9"/>
<polyline points="407.5,186.9 407.5,193.3" stroke="#1fd2d6" stroke-width="3.3"/>
<polyline points="407.5,186.9 407.5,193.3" stroke="#6cecec" stroke-width="0.9" transform="translate(-0.4,-0.5)"/>
<polyline points="339.8,146.6 344.7,153.1 364.0,154.7 354.3,161.1 347.9,161.1 344.7,149.8" stroke="#780505" stroke-width="4.9"/>
<polyline points="339.8,146.6 344.7,153.1 364.0,154.7 354.3,161.1 347.9,161.1 344.7,149.8" stroke="#dc1010" stroke-width="3.3"/>
<polyline points="339.8,146.6 344.7,153.1 364.0,154.7 354.3,161.1 347.9,161.1 344.7,149.8" stroke="#ee3028" stroke-width="0.9" transform="translate(-0.4,-0.5)"/>
<polyline points="347.9,161.1 346.3,169.2 354.3,172.4" stroke="#780505" stroke-width="4.9"/>
<polyline points="347.9,161.1 346.3,169.2 354.3,172.4" stroke="#dc1010" stroke-width="3.3"/>
<polyline points="347.9,161.1 346.3,169.2 354.3,172.4" stroke="#ee3028" stroke-width="0.9" transform="translate(-0.4,-0.5)"/>
<polyline points="355.9,173.3 364.0,175.6 365.0,182.0 359.2,186.9 354.3,188.5" stroke="#087008" stroke-width="4.9"/>
<polyline points="355.9,173.3 364.0,175.6 365.0,182.0 359.2,186.9 354.3,188.5" stroke="#12d012" stroke-width="3.3"/>
<polyline points="355.9,173.3 364.0,175.6 365.0,182.0 359.2,186.9 354.3,188.5" stroke="#50ea50" stroke-width="0.9" transform="translate(-0.4,-0.5)"/>
<polyline points="354.3,188.5 347.9,191.7 349.5,196.5" stroke="#7a7a7a" stroke-width="4.9"/>
<polyline points="354.3,188.5 347.9,191.7 349.5,196.5" stroke="#d2d2d2" stroke-width="3.3"/>
<polyline points="354.3,188.5 347.9,191.7 349.5,196.5" stroke="#f0f0f0" stroke-width="0.9" transform="translate(-0.4,-0.5)"/>
<polyline points="349.5,196.5 339.8,199.8 343.1,203.9 351.1,203.0 349.5,196.5" stroke="#087008" stroke-width="4.9"/>
<polyline points="349.5,196.5 339.8,199.8 343.1,203.9 351.1,203.0 349.5,196.5" stroke="#12d012" stroke-width="3.3"/>
<polyline points="349.5,196.5 339.8,199.8 343.1,203.9 351.1,203.0 349.5,196.5" stroke="#50ea50" stroke-width="0.9" transform="translate(-0.4,-0.5)"/>
<polyline points="405.2,178.8 415.5,183.6 419.7,189.4 412.3,196.5 402.6,197.5 399.4,193.3 404.2,185.3 405.2,178.8" stroke="#780505" stroke-width="4.9"/>
<polyline points="405.2,178.8 415.5,183.6 419.7,189.4 412.3,196.5 402.6,197.5 399.4,193.3 404.2,185.3 405.2,178.8" stroke="#dc1010" stroke-width="3.3"/>
<polyline points="405.2,178.8 415.5,183.6 419.7,189.4 412.3,196.5 402.6,197.5 399.4,193.3 404.2,185.3 405.2,178.8" stroke="#ee3028" stroke-width="0.9" transform="translate(-0.4,-0.5)"/>
<polyline points="369.6,192.7 375.3,188.5 381.7,183.6 384.9,188.5 388.1,193.3 394.6,194.9 399.4,193.3" stroke="#780505" stroke-width="4.9"/>
<polyline points="369.6,192.7 375.3,188.5 381.7,183.6 384.9,188.5 388.1,193.3 394.6,194.9 399.4,193.3" stroke="#dc1010" stroke-width="3.3"/>
<polyline points="369.6,192.7 375.3,188.5 381.7,183.6 384.9,188.5 388.1,193.3 394.6,194.9 399.4,193.3" stroke="#ee3028" stroke-width="0.9" transform="translate(-0.4,-0.5)"/>
<polyline points="394.6,211.0 398.1,214.6" stroke="#7a7a7a" stroke-width="4.9"/>
<polyline points="394.6,211.0 398.1,214.6" stroke="#d2d2d2" stroke-width="3.3"/>
<polyline points="394.6,211.0 398.1,214.6" stroke="#f0f0f0" stroke-width="0.9" transform="translate(-0.4,-0.5)"/>
<polyline points="334.1,131.2 330.6,135.4 325.3,134.4 323.5,129.4 327.0,125.2 332.3,126.2 334.1,131.2" stroke="#1d1d8e" stroke-width="1.3"/>
<polyline points="334.1,131.2 337.3,131.8" stroke="#1d1d8e" stroke-width="1.3"/>
<polyline points="330.6,135.4 331.7,138.4" stroke="#1d1d8e" stroke-width="1.3"/>
<polyline points="325.3,134.4 323.3,136.9" stroke="#1d1d8e" stroke-width="1.3"/>
<polyline points="323.5,129.4 320.3,128.8" stroke="#1d1d8e" stroke-width="1.3"/>
<polyline points="327.0,125.2 325.9,122.2" stroke="#1d1d8e" stroke-width="1.3"/>
<polyline points="332.3,126.2 334.3,123.7" stroke="#1d1d8e" stroke-width="1.3"/>
<polyline points="359.0,110.9 355.2,114.1 350.5,112.4 349.6,107.5 353.4,104.3 358.1,106.0 359.0,110.9" stroke="#1d1d8e" stroke-width="1.3"/>
<polyline points="359.0,110.9 362.0,112.0" stroke="#1d1d8e" stroke-width="1.3"/>
<polyline points="355.2,114.1 355.7,117.3" stroke="#1d1d8e" stroke-width="1.3"/>
<polyline points="350.5,112.4 348.0,114.5" stroke="#1d1d8e" stroke-width="1.3"/>
<polyline points="349.6,107.5 346.6,106.4" stroke="#1d1d8e" stroke-width="1.3"/>
<polyline points="353.4,104.3 352.9,101.1" stroke="#1d1d8e" stroke-width="1.3"/>
<polyline points="358.1,106.0 360.6,103.9" stroke="#1d1d8e" stroke-width="1.3"/>
<polyline points="341.5,115.5 333.5,104.5" stroke="#1d1d8e" stroke-width="1.3"/>
<polyline points="341.5,115.5 332.8,108.5" stroke="#1d1d8e" stroke-width="1.3"/>
<polyline points="341.5,115.5 347.0,110.5" stroke="#1d1d8e" stroke-width="1.3"/>
<polyline points="341.5,115.5 349.5,118.5" stroke="#1d1d8e" stroke-width="1.3"/>
<polyline points="333.8,126.3 337.0,121.5 341.5,115.5 346.0,112.5 350.0,111.2" stroke="#1d1d8e" stroke-width="1.3"/>
<polyline points="339.5,112.5 368.0,136.5" stroke="#1d1d8e" stroke-width="1.3"/>
<polyline points="343.0,119.5 366.5,133.0" stroke="#1d1d8e" stroke-width="1.3"/>
<polyline points="346.0,124.0 362.0,136.2" stroke="#1d1d8e" stroke-width="1.3"/>
<polyline points="350.0,121.0 357.0,131.0" stroke="#1d1d8e" stroke-width="1.3"/>
<polyline points="353.0,127.0 363.0,131.5" stroke="#1d1d8e" stroke-width="1.3"/>
<polyline points="336.0,110.0 345.0,121.0" stroke="#1d1d8e" stroke-width="1.3"/>
<polyline points="338.0,118.0 348.0,114.0" stroke="#1d1d8e" stroke-width="1.3"/>
<polyline points="334.0,116.0 342.0,111.0" stroke="#1d1d8e" stroke-width="1.3"/>
<polyline points="354.5,127.5 361.5,131" stroke="#14146e" stroke-width="2.6"/>
</g>
<linearGradient id="g1" gradientUnits="userSpaceOnUse" x1="114.2" y1="174.6" x2="239" y2="161.9"><stop offset="0" stop-color="#30343a"/><stop offset="0.3" stop-color="#4a5058"/><stop offset="0.7" stop-color="#77848f"/><stop offset="1" stop-color="#b4c6d4"/></linearGradient><polygon points="114.2,174.6 129.4,180.5 128.8,175.3 176.9,171.1 224.8,166.0 225.3,170.7 239.0,161.9 223.8,156.0 224.3,160.8 176.3,165.4 128.4,170.9 127.9,165.8" fill="url(#g1)"/>
<linearGradient id="g2" gradientUnits="userSpaceOnUse" x1="297.8" y1="209.1" x2="488.5" y2="277.5"><stop offset="0" stop-color="#444446"/><stop offset="0.08" stop-color="#2c2c2e"/><stop offset="0.16" stop-color="#0c0c0e"/><stop offset="0.33" stop-color="#141618"/><stop offset="0.42" stop-color="#363b41"/><stop offset="0.535" stop-color="#7a8894"/><stop offset="0.72" stop-color="#a8bbcb"/><stop offset="0.87" stop-color="#c0d2e0"/><stop offset="0.95" stop-color="#93a3b0"/><stop offset="1" stop-color="#7c8994"/></linearGradient><polygon points="297.8,209.1 309.1,220.6 310.7,216.1 392.1,246.1 473.8,275.4 472.5,279.2 488.5,277.5 477.2,266.0 475.9,269.8 394.2,240.5 312.2,211.9 313.8,207.4" fill="url(#g2)"/>
<linearGradient id="g3" gradientUnits="userSpaceOnUse" x1="394.1" y1="209.1" x2="630.9" y2="310.8"><stop offset="0" stop-color="#707072"/><stop offset="0.07" stop-color="#4a4a4c"/><stop offset="0.15" stop-color="#101012"/><stop offset="0.3" stop-color="#141618"/><stop offset="0.39" stop-color="#474d53"/><stop offset="0.455" stop-color="#5d666e"/><stop offset="0.59" stop-color="#8e9aa5"/><stop offset="0.785" stop-color="#b4c4d2"/><stop offset="0.93" stop-color="#93a3b0"/><stop offset="1" stop-color="#76838e"/></linearGradient><polygon points="394.1,209.1 404.2,221.1 406.1,216.7 511.2,263.1 616.6,308.6 615.2,311.8 630.9,310.8 620.8,298.8 619.5,302.0 513.8,256.8 407.9,212.5 409.8,208.1" fill="url(#g3)"/>
</svg></body></html>
